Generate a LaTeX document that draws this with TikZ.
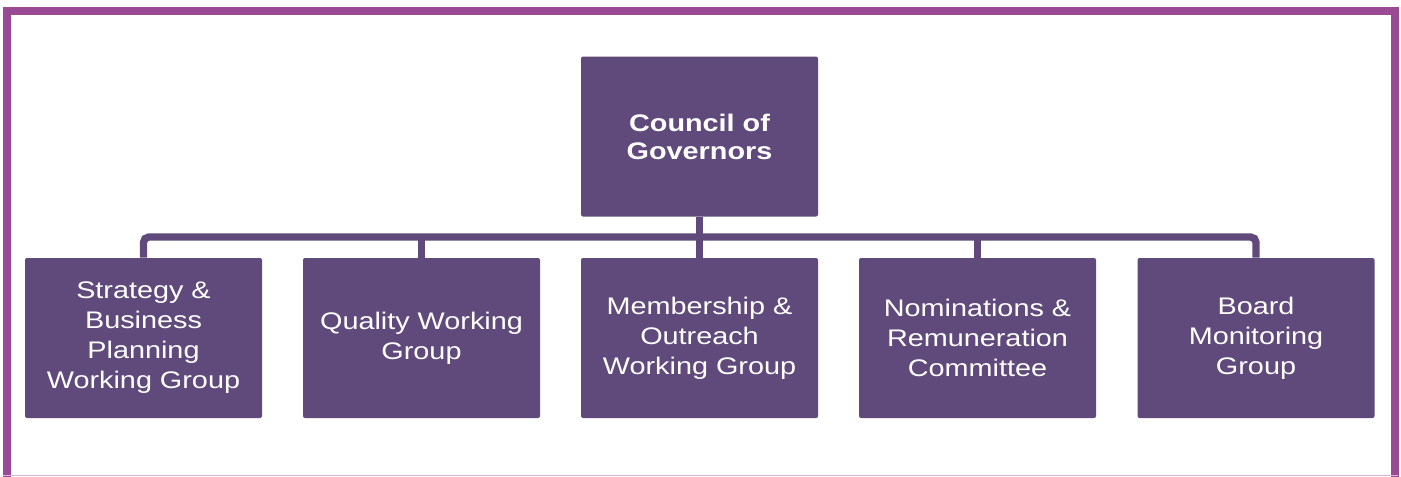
\documentclass[tikz,border=0pt]{standalone}
\usepackage{fontspec}
\setmainfont[FakeStretch=1.2]{Liberation Sans}
\definecolor{govpurple}{HTML}{604A7B}
\definecolor{framepurple}{HTML}{9A4A95}
\begin{document}
\begin{tikzpicture}[x=0.75pt, y=-0.75pt,
    every node/.style={rectangle, fill=govpurple, rounded corners=1.5pt, minimum width=177.75pt, minimum height=120pt, text width=170pt, align=center, text=white, inner sep=0pt, font=\fontsize{18}{22.5}\selectfont},
    link/.style={draw=govpurple, line width=5.5pt, rounded corners=4pt}]
    \useasboundingbox (0,0) rectangle (1401,476);
    \draw[framepurple, line width=6pt] (7,480) -- (7,11) -- (1395,11) -- (1395,480);
    \draw[framepurple!40, line width=0.75pt] (3,475.6) -- (1398,475.6);
    \node[font=\bfseries\fontsize{18}{21}\selectfont] (council) at (699.5,136.5) {Council of\\Governors};
    \node (sbp) at (143.5,338) {Strategy \&\\Business\\Planning\\Working Group};
    \node (qwg) at (421.5,338) {Quality Working\\Group};
    \node (mowg) at (699.5,338) {Membership \&\\Outreach\\Working Group};
    \node (nrc) at (977.5,338) {Nominations \&\\Remuneration\\Committee};
    \node (bmg) at (1256,338) {Board\\Monitoring\\Group};
    \coordinate (hub) at (699.5,237);
    \draw[link] (sbp.north) |- (hub) -| (bmg.north);
    \draw[link] (council.south) -- (mowg.north);
    \draw[link] (qwg.north) -- (qwg.north |- hub);
    \draw[link] (nrc.north) -- (nrc.north |- hub);
\end{tikzpicture}
\end{document}
